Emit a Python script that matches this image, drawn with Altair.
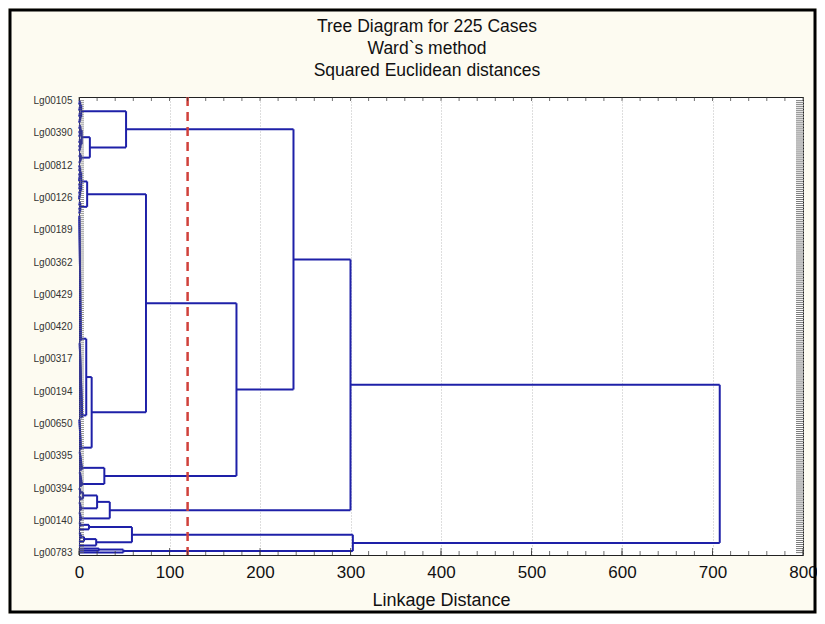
import altair as alt
import pandas as pd

# ---------------- data ----------------
N_LEAVES = 225
label_names = ["Lg00105", "Lg00390", "Lg00812", "Lg00126", "Lg00189", "Lg00362",
               "Lg00429", "Lg00420", "Lg00317", "Lg00194", "Lg00650", "Lg00395",
               "Lg00394", "Lg00140", "Lg00783"]
label_step = 16

# leaf-level groups (first leaf, last leaf, top linkage height, shape of the small sub-tree)
block_name  = ["A1", "A2a", "A2b", "B1a", "B1b", "B2a1", "B2a2", "B2b", "C1a", "C1b",
               "C2a1a", "C2a1b", "C2a2", "C2b", "D1a1", "D1a2", "D1b1a", "D1b1b",
               "D1b2", "D2a", "D2b"]
block_start = [0, 12, 26, 32, 50, 57, 120, 158, 174, 184, 192, 196, 199, 204, 209, 212,
               214, 218, 220, 222, 224]
block_end   = [11, 25, 31, 49, 56, 119, 157, 173, 183, 191, 195, 198, 203, 208, 211, 213,
               217, 219, 221, 223, 224]
block_h     = [2.5, 3.0, 2.0, 2.5, 1.5, 2.0, 3.5, 2.0, 3.0, 3.0, 1.5, 1.5, 2.0, 2.0, 1.5,
               1.0, 2.0, 1.0, 1.0, 22.0, 0.0]
block_shape = ["mid", "mid", "mid", "mid", "mid", "down", "down", "down", "down", "down",
               "down", "down", "down", "down", "down", "mid", "down", "mid", "mid", "mid",
               "mid"]

# higher level joins (left, right, linkage distance)
merge_name  = ["A2", "A", "B1", "B2a", "B2", "B", "C1", "BC", "ABC", "C2a1", "C2a", "C2",
               "ABCC2", "D1a", "D1b1", "D1b", "D1", "D2", "D", "ROOT"]
merge_left  = ["A2a", "A1", "B1a", "B2a1", "B2a", "B1", "C1a", "B", "A", "C2a1a", "C2a1",
               "C2a", "ABC", "D1a1", "D1b1a", "D1b1", "D1a", "D2a", "D1", "ABCC2"]
merge_right = ["A2b", "A2", "B1b", "B2a2", "B2b", "B2", "C1b", "C1", "BC", "C2a1b", "C2a2",
               "C2b", "C2", "D1a2", "D1b1b", "D1b2", "D1b", "D2b", "D2", "D"]
merge_h     = [12, 52, 9, 8, 14, 74, 28, 174, 237, 4.5, 20, 34, 300, 11, 5.5, 19, 58.5,
               49, 302.6, 708]

cut_height = 120

title_lines = ["Tree Diagram for 225 Cases", "Ward`s method", "Squared Euclidean distances"]

# ---------------- build segments ----------------
segs = []


def join(a, b, H):
    (ya, ha), (yb, hb) = a, b
    segs.append((ha, H, ya, ya))
    segs.append((hb, H, yb, yb))
    segs.append((H, H, ya, yb))
    return ((ya + yb) / 2.0, H)


def rec(lst, hh):
    if len(lst) == 1:
        return lst[0]
    m = len(lst) // 2
    return join(rec(lst[:m], hh * 0.55), rec(lst[m:], hh * 0.55), hh)


nodes = {}
for name, s, e, h, shape in zip(block_name, block_start, block_end, block_h, block_shape):
    leaves = [(float(i), 0.0) for i in range(s, e + 1)]
    if len(leaves) == 1:
        nodes[name] = leaves[0]
        continue
    if shape in ("down", "up"):
        seq = leaves if shape == "down" else leaves[::-1]
        cur = seq[0]
        k = len(seq) - 1
        for j, lf in enumerate(seq[1:], 1):
            cur = join(cur, lf, h * (0.2 + 0.8 * j / k))
    else:
        cur = rec(leaves, h)
    nodes[name] = cur

for name, l, r, H in zip(merge_name, merge_left, merge_right, merge_h):
    nodes[name] = join(nodes[l], nodes[r], H)

seg_df = pd.DataFrame(segs, columns=["x", "x2", "y", "y2"])
leaf_df = pd.DataFrame({"leaf": list(range(N_LEAVES))})
minor_df = pd.DataFrame({"d": list(range(0, 801, 20))})
major_df = pd.DataFrame({"d": list(range(0, 801, 100))})
cut_df = pd.DataFrame({"d": [cut_height]})

W, H = 724, 458
FONT = "Liberation Sans, Arial, sans-serif"

names_js = "[" + ",".join("'%s'" % n for n in label_names) + "]"
label_expr = "%s[round(datum.value / %d)]" % (names_js, label_step)

xscale = alt.Scale(domain=[0, 800], nice=False, zero=False)
yscale = alt.Scale(domain=[-1.8, 225.2], reverse=True, nice=False, zero=False)

x_axis = alt.Axis(values=list(range(0, 801, 100)), grid=True, gridDash=[1, 2],
                  gridColor="#bdbdbd", gridWidth=1, ticks=False, labelPadding=9,
                  labelFontSize=17, labelFont=FONT, labelColor="#111",
                  domainColor="#222", title="Linkage Distance", titleFont=FONT,
                  titleFontSize=18, titleFontWeight="normal", titleColor="#111",
                  titlePadding=11, labelFlush=False, labelOverlap=False)
y_axis = alt.Axis(values=list(range(0, N_LEAVES, label_step)), labelExpr=label_expr,
                  ticks=False, grid=False, labelOverlap=False, labelPadding=7,
                  labelFontSize=10, labelFont=FONT, labelColor="#333",
                  domainColor="#222", title=None)

tree = alt.Chart(seg_df).mark_rule(color="#1E20A8", strokeWidth=2).encode(
    x=alt.X("x:Q", scale=xscale, axis=x_axis, title="Linkage Distance"),
    x2="x2:Q",
    y=alt.Y("y:Q", scale=yscale, axis=y_axis, title=None),
    y2="y2:Q",
)

cut = alt.Chart(cut_df).mark_rule(color="#D0413B", strokeWidth=2.5, strokeDash=[9, 6]).encode(
    x=alt.X("d:Q", scale=xscale, axis=x_axis, title="Linkage Distance")
)

left_ticks = alt.Chart(leaf_df).mark_tick(color="#666", thickness=1, size=5).encode(
    y=alt.Y("leaf:Q", scale=yscale, axis=y_axis, title=None), x=alt.value(2.5))
right_ticks = alt.Chart(leaf_df).mark_tick(color="#444", thickness=1, size=7).encode(
    y=alt.Y("leaf:Q", scale=yscale, axis=y_axis, title=None), x=alt.value(W - 3.5))
bottom_minor = alt.Chart(minor_df).mark_tick(color="#333", thickness=1, size=4).encode(
    x=alt.X("d:Q", scale=xscale, axis=x_axis, title="Linkage Distance"), y=alt.value(H - 2))
top_minor = alt.Chart(minor_df).mark_tick(color="#333", thickness=1, size=4).encode(
    x=alt.X("d:Q", scale=xscale, axis=x_axis, title="Linkage Distance"), y=alt.value(2))
bottom_major = alt.Chart(major_df).mark_tick(color="#333", thickness=1, size=7).encode(
    x=alt.X("d:Q", scale=xscale, axis=x_axis, title="Linkage Distance"), y=alt.value(H - 3.5))

border = alt.Chart(cut_df).mark_rect(fill=None, stroke="#000", strokeWidth=3).encode(
    x=alt.value(-69), x2=alt.value(W + 12), y=alt.value(-87), y2=alt.value(H + 57))

chart = alt.layer(
    tree, cut, left_ticks, right_ticks, bottom_minor, top_minor, bottom_major, border
).properties(
    width=W, height=H,
    title=alt.TitleParams(
        text=title_lines, font=FONT, fontSize=17.5, fontWeight="normal", color="#111",
        lineHeight=22, anchor="middle", baseline="top", offset=0, dy=71, dx=-14),
    autosize=alt.AutoSizeParams(type="none"),
    padding={"left": 71, "top": 89, "right": 14, "bottom": 59},
    background="#FDFBF1",
).configure_view(stroke="#222", strokeWidth=1, fill="white"
).configure_axisY(labelOverlap=False)

chart.save("out.html", embed_options={"renderer": "svg", "actions": False})
